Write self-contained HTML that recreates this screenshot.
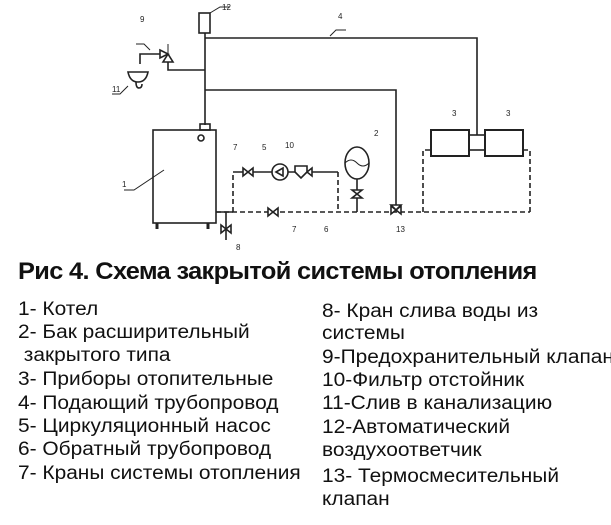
<!DOCTYPE html>
<html><head><meta charset="utf-8"><style>
body{margin:0;background:#fff;width:611px;height:525px;overflow:hidden;position:relative;font-family:"Liberation Sans",sans-serif}
.t{position:absolute;font-size:19px;color:#111;white-space:nowrap;line-height:22px;transform:scaleX(1.1);transform-origin:0 0}
</style></head><body>
<svg width="611" height="260" style="position:absolute;left:0;top:0" stroke="#222" fill="none" stroke-width="1.6">
<path d="M205 33V125M205 38H477V135M205 90H396V206M205 70H168V62"/>
<rect x="199" y="13" width="11" height="20" fill="#fff"/>
<path d="M210 13l10-6h10" stroke-width="1"/><text x="222" y="10" font-size="8" fill="#222" stroke="none">12</text>
<path d="M330 36l6-6h10" stroke-width="1"/><text x="338" y="19" font-size="8" fill="#222" stroke="none">4</text>
<path d="M160 50l8 4-8 4zM168 54l-5 8h10z" fill="#fff"/><path d="M168 54V44" stroke-width="1"/>
<path d="M160 54H140V64" /><path d="M150 50l-6-6h-8" stroke-width="1"/><text x="140" y="22" font-size="8" fill="#222" stroke="none">9</text>
<path d="M128 72h20q-2 10-10 10q-8 0-10-10z" fill="#fff"/><path d="M136 82q0 6 3 6q3 0 3-4"/>
<text x="112" y="92" font-size="8" fill="#222" stroke="none">11</text><path d="M112 94h8l8-8" stroke-width="1"/>
<rect x="153" y="130" width="63" height="93" fill="#fff"/>
<rect x="200" y="124" width="10" height="6"/><circle cx="201" cy="138" r="3"/>
<path d="M157 223v6M208 223v6" stroke-width="3"/>
<path d="M124 190h10l30-20" stroke-width="1"/><text x="122" y="187" font-size="8" fill="#222" stroke="none">1</text>
<path d="M216 212H530M233 212V172M338 172V212M423 212V150H431M530 212V150H523" stroke-dasharray="5,3"/>
<path d="M216 212H233"/>
<path d="M226 212V240"/><path d="M221 225l10 8v-8l-10 8z" fill="#fff"/>
<path d="M233 172H338"/>
<path d="M243 168l10 8v-8l-10 8zM302 168l10 8v-8l-10 8zM268 208l10 8v-8l-10 8z" fill="#fff"/>
<circle cx="280" cy="172" r="8" fill="#fff"/><path d="M276 172l7-4v8z"/>
<path d="M295 166h12v6l-6 6l-6-6z" fill="#fff"/>
<text x="233" y="150" font-size="8" fill="#222" stroke="none">7</text><text x="262" y="150" font-size="8" fill="#222" stroke="none">5</text><text x="285" y="148" font-size="8" fill="#222" stroke="none">10</text>
<text x="292" y="232" font-size="8" fill="#222" stroke="none">7</text><text x="324" y="232" font-size="8" fill="#222" stroke="none">6</text><text x="236" y="250" font-size="8" fill="#222" stroke="none">8</text>
<ellipse cx="357" cy="163" rx="12" ry="16" fill="#fff"/><path d="M345 163q6-6 12 0t12 0" stroke-width="1"/>
<path d="M357 179V212"/><path d="M352 190l10 8h-10l10-8z" fill="#fff"/>
<text x="374" y="136" font-size="8" fill="#222" stroke="none">2</text>
<path d="M391 206l10 8v-8l-10 8zM396 210l-5 -5h10z" fill="#fff"/>
<text x="396" y="232" font-size="8" fill="#222" stroke="none">13</text>
<rect x="431" y="130" width="38" height="26" fill="#fff" stroke-width="2"/>
<rect x="485" y="130" width="38" height="26" fill="#fff" stroke-width="2"/>
<rect x="469" y="135" width="16" height="15"/>
<text x="452" y="116" font-size="8" fill="#222" stroke="none">3</text><text x="506" y="116" font-size="8" fill="#222" stroke="none">3</text>
</svg>
<div style="position:absolute;left:18px;top:258px;font-size:24px;font-weight:bold;letter-spacing:-0.6px;color:#111;white-space:nowrap;transform:scaleX(1.055);transform-origin:0 0">Рис 4. Схема закрытой системы отопления</div>
<div class="t" style="left:18px;top:299px">1- Котел</div>
<div class="t" style="left:18px;top:322px">2- Бак расширительный</div>
<div class="t" style="left:18px;top:345px">&nbsp;закрытого типа</div>
<div class="t" style="left:18px;top:369px">3- Приборы отопительные</div>
<div class="t" style="left:18px;top:393px">4- Подающий трубопровод</div>
<div class="t" style="left:18px;top:416px">5- Циркуляционный насос</div>
<div class="t" style="left:18px;top:439px">6- Обратный трубопровод</div>
<div class="t" style="left:18px;top:463px">7- Краны системы отопления</div>
<div class="t" style="left:322px;top:301px">8- Кран слива воды из</div>
<div class="t" style="left:322px;top:323px">системы</div>
<div class="t" style="left:322px;top:347px">9-Предохранительный клапан</div>
<div class="t" style="left:322px;top:370px">10-Фильтр отстойник</div>
<div class="t" style="left:322px;top:393px">11-Слив в канализацию</div>
<div class="t" style="left:322px;top:417px">12-Автоматический</div>
<div class="t" style="left:322px;top:440px">воздухоответчик</div>
<div class="t" style="left:322px;top:466px">13- Термосмесительный</div>
<div class="t" style="left:322px;top:489px">клапан</div>
</body></html>
